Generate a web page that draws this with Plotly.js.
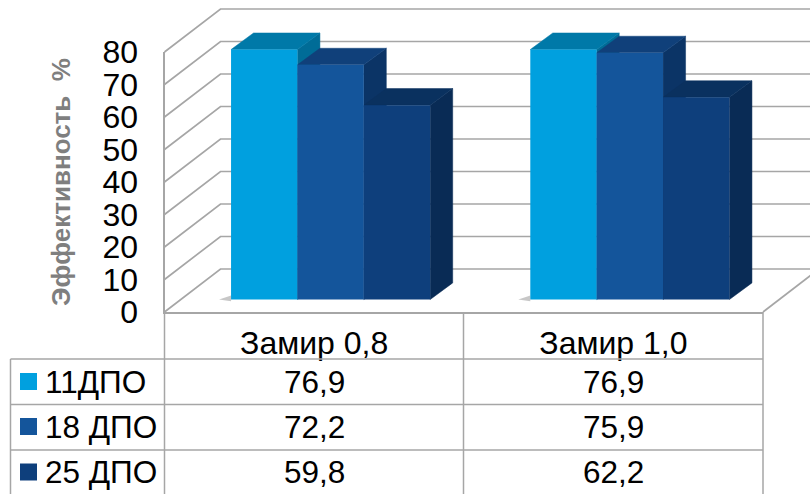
<!DOCTYPE html>
<html><head><meta charset="utf-8">
<script src="https://cdn.plot.ly/plotly-3.0.1.min.js"></script>
<style>html,body{margin:0;padding:0;background:#fff}#c{width:810px;height:494px}</style></head>
<body><div id="c"></div>
<script>
const categories = ['Замир 0,8', 'Замир 1,0'];
const seriesNames = ['11ДПО', '18 ДПО', '25 ДПО'];
const values11 = [76.9, 76.9];
const values18 = [72.2, 75.9];
const values25 = [59.8, 62.2];
const valueLabels = [['76,9','76,9'],['72,2','75,9'],['59,8','62,2']];
const yTicks = [0,10,20,30,40,50,60,70,80];
const frontColors = ['#00A0DF','#14559B','#0E3F7C'];
const topColors = ['#0079A8','#10407A','#0A315F'];
const sideColors = ['#006C97','#0B3466','#092B55'];
const gridColor = '#A6A6A6';
const FONT = 'Liberation Sans, Arial, sans-serif';

const W = 810, H = 494;
const Y0 = 312, Y80 = 52, XL = 164.5, XR = 763;
const pxX = (XR - XL) / 2, pxY = (Y0 - Y80) / 80;
const wallDx = 56 / pxX, wallDy = 43 / pxY;
const barLiftX = 16.5 / pxX, barLiftY = 12.5 / pxY;
const barDx = 22.5 / pxX, barDy = 16.6 / pxY;
const bargap = 0.3345;
const barW = (1 - bargap) / 3;
const xRange = [-0.5, 1.5];
const series = [values11, values18, values25];
const traces = [];
const sub = {xaxis:'x2', yaxis:'y2', cliponaxis:false, hoverinfo:'skip', showlegend:false};

// walls and floor
const gx = [], gy = [];
yTicks.forEach(t => {
  gx.push(xRange[0], xRange[0] + wallDx, xRange[1] + wallDx, null);
  gy.push(t, t + wallDy, t + wallDy, null);
});
traces.push({...sub, type:'scatter', mode:'lines', x:gx, y:gy, line:{color:gridColor, width:1.7}});
traces.push({...sub, type:'scatter', mode:'lines', x:[xRange[1], xRange[1] + wallDx], y:[0, wallDy], line:{color:gridColor, width:1.7}});

// bar shadows on the floor
categories.forEach((c, ci) => {
  const xl = ci + barLiftX - 1.5 * barW;
  traces.push({...sub, type:'scatter', mode:'lines', fill:'toself', fillcolor:'rgba(130,130,130,0.45)',
    x:[xl - 0.04, xl, xl, xl - 0.04], y:[barLiftY, barLiftY + 1.2, barLiftY - 0.5, barLiftY],
    line:{width:0, color:'rgba(0,0,0,0)'}});
});

// depth faces, computed from the values
series.forEach((vals, si) => {
  vals.forEach((v, ci) => {
    const xl = ci + barLiftX + (si - 1.5) * barW, xr = xl + barW, b = barLiftY, t = b + v;
    traces.push({...sub, type:'scatter', mode:'lines', fill:'toself', fillcolor:sideColors[si],
      x:[xr, xr + barDx, xr + barDx, xr, xr], y:[b, b + barDy, t + barDy, t, b],
      line:{color:sideColors[si], width:0.5}});
    traces.push({...sub, type:'scatter', mode:'lines', fill:'toself', fillcolor:topColors[si],
      x:[xl, xl + barDx, xr + barDx, xr, xl], y:[t, t + barDy, t + barDy, t, t],
      line:{color:topColors[si], width:0.5}});
  });
});

// front faces
series.forEach((vals, si) => {
  traces.push({type:'bar', name:seriesNames[si], x:categories.map((c, i) => i + barLiftX), y:vals,
    base:vals.map(() => barLiftY), xaxis:'x3', yaxis:'y3',
    marker:{color:frontColors[si], line:{width:0}}, showlegend:false});
});

const rowLines = [359, 404.5, 450];
const rowMid = [381.5, 426.5, 472];
const py = p => 1 - p / H, px = p => p / W;
const line = (x0, y0, x1, y1) => ({type:'line', xref:'paper', yref:'paper', x0:px(x0), x1:px(x1), y0:py(y0), y1:py(y1),
  line:{color:gridColor, width:1.5}});
const shapes = [
  line(XL, Y0, XL, H), line(463.5, Y0, 463.5, H), line(XR, Y0, XR, H), line(10.5, 359, 10.5, H)
];
rowLines.forEach(y => shapes.push(line(10.5, y, XR, y)));
seriesNames.forEach((n, i) => shapes.push({type:'rect', xref:'paper', yref:'paper',
  x0:px(20), x1:px(37), y0:py(rowMid[i] - 8.5), y1:py(rowMid[i] + 8.5), fillcolor:frontColors[i], line:{width:0}}));

const annotations = [];
seriesNames.forEach((n, i) => {
  annotations.push({xref:'paper', yref:'paper', x:px(43), y:py(rowMid[i]), xanchor:'left', yanchor:'middle', text:n,
    showarrow:false, font:{family:FONT, size:31.5, color:'#000'}});
  categories.forEach((c, ci) => annotations.push({xref:'x', yref:'paper', x:ci, y:py(rowMid[i]), xanchor:'center', yanchor:'middle',
    text:valueLabels[i][ci], showarrow:false, font:{family:FONT, size:31.5, color:'#000'}}));
});

const xDomain = [XL / W, XR / W], yDomain = [(H - Y0) / H, (H - Y80) / H];
// drawing axes share the scale of the main axes but reach to the edges of the picture
const padL = 4, padB = 4;
const wideX = {domain:[(XL - padL) / W, 1], range:[xRange[0] - padL / pxX, xRange[0] + (W - XL) / pxX], visible:false, fixedrange:true};
const wideY = {domain:[(H - Y0 - padB) / H, 1], range:[-padB / pxY, Y0 / pxY], visible:false, fixedrange:true};
const layout = {
  width:W, height:H, margin:{l:0, r:0, t:0, b:0, pad:0}, paper_bgcolor:'#fff', plot_bgcolor:'rgba(0,0,0,0)',
  font:{family:FONT}, showlegend:false, bargap:bargap, bargroupgap:0, barmode:'group',
  xaxis:{domain:xDomain, range:xRange, tickmode:'array', tickvals:[0, 1], ticktext:categories, showgrid:false, zeroline:false,
    showline:true, linecolor:gridColor, linewidth:2, ticks:'outside', ticklen:2, tickcolor:'rgba(0,0,0,0)',
    tickfont:{family:FONT, size:32, color:'#000'}, fixedrange:true, anchor:'y'},
  yaxis:{domain:yDomain, range:[0, 80], tickmode:'array', tickvals:yTicks, showgrid:false, zeroline:false,
    showline:true, linecolor:gridColor, linewidth:2, ticks:'outside', ticklen:18, tickcolor:'rgba(0,0,0,0)',
    tickfont:{family:FONT, size:32, color:'#000'}, fixedrange:true, anchor:'x',
    title:{text:'Эффективность  %', standoff:24, font:{family:FONT, size:26, color:'#7F7F7F', weight:'bold'}}},
  xaxis2:{...wideX, anchor:'y2'}, yaxis2:{...wideY, anchor:'x2'},
  xaxis3:{...wideX, anchor:'y3'}, yaxis3:{...wideY, anchor:'x3'},
  shapes:shapes, annotations:annotations
};
Plotly.newPlot('c', traces, layout, {staticPlot:true, displayModeBar:false});
</script></body></html>
